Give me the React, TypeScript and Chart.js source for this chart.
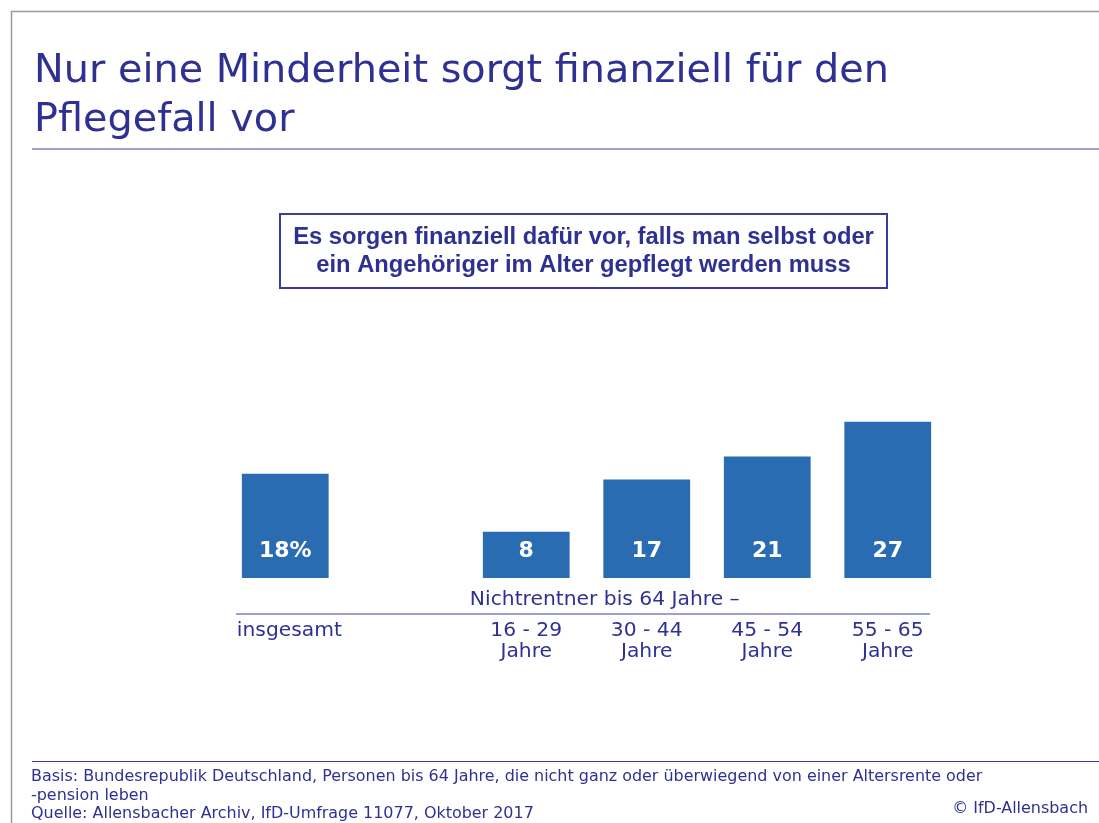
import React, { useEffect, useRef } from 'react';
import { Chart, registerables } from 'chart.js';

Chart.register(...registerables);

const categories = ['insgesamt', '', '16 - 29', '30 - 44', '45 - 54', '55 - 65'];
const secondLine = ['', '', 'Jahre', 'Jahre', 'Jahre', 'Jahre'];
const values: (number | null)[] = [18, null, 8, 17, 21, 27];
const valueLabels = ['18%', '', '8', '17', '21', '27'];
const titleLines = ['Nur eine Minderheit sorgt finanziell für den', 'Pflegefall vor'];
const questionLines = [
  'Es sorgen finanziell dafür vor, falls man selbst oder',
  'ein Angehöriger im Alter gepflegt werden muss',
];
const groupLabel = 'Nichtrentner bis 64 Jahre –';
const footerLines = [
  'Basis: Bundesrepublik Deutschland, Personen bis 64 Jahre, die nicht ganz oder überwiegend von einer Altersrente oder',
  '-pension leben',
  'Quelle: Allensbacher Archiv, IfD-Umfrage 11077, Oktober 2017',
];
const copyright = '© IfD-Allensbach';

const W = 1099;
const H = 823;
const NAVY = '#2e3192';
const BAR = '#2a6cb1';
const SANS = '"DejaVu Sans", sans-serif';
const BOLD = '"Liberation Sans", Arial, sans-serif';

function fitSize(ctx: CanvasRenderingContext2D, text: string, weight: string, family: string, target: number) {
  ctx.font = `${weight} 100px ${family}`;
  const w = ctx.measureText(text).width;
  return (100 * target) / w;
}

const overlay = {
  id: 'overlay',
  beforeDraw(chart: any) {
    const ctx: CanvasRenderingContext2D = chart.ctx;
    ctx.save();
    ctx.fillStyle = '#ffffff';
    ctx.fillRect(0, 0, W, H);
    ctx.restore();
  },
  afterDraw(chart: any) {
    const ctx: CanvasRenderingContext2D = chart.ctx;
    const meta = chart.getDatasetMeta(0);
    const yScale = chart.scales.y;
    const base = yScale.getPixelForValue(0);
    ctx.save();

    // frame
    ctx.strokeStyle = '#9a9a9a';
    ctx.lineWidth = 1.5;
    ctx.beginPath();
    ctx.moveTo(11.5, H);
    ctx.lineTo(11.5, 11.5);
    ctx.lineTo(W, 11.5);
    ctx.stroke();

    // title
    const tSize = fitSize(ctx, titleLines[0], '400', SANS, 855);
    ctx.fillStyle = NAVY;
    ctx.textAlign = 'left';
    ctx.textBaseline = 'alphabetic';
    ctx.font = `400 ${tSize}px ${SANS}`;
    ctx.fillText(titleLines[0], 34, 82);
    ctx.fillText(titleLines[1], 34, 131);

    ctx.strokeStyle = '#8080c0';
    ctx.lineWidth = 1.5;
    ctx.beginPath();
    ctx.moveTo(32, 149);
    ctx.lineTo(W, 149);
    ctx.stroke();

    // question box
    ctx.strokeStyle = '#3a3c9a';
    ctx.lineWidth = 2;
    ctx.strokeRect(280, 214, 607, 74);
    const qSize = fitSize(ctx, questionLines[0], '700', BOLD, 581);
    ctx.font = `700 ${qSize}px ${BOLD}`;
    ctx.fillStyle = NAVY;
    ctx.textAlign = 'center';
    ctx.textBaseline = 'middle';
    ctx.fillText(questionLines[0], 583.5, 237);
    ctx.fillText(questionLines[1], 583.5, 265);

    // value labels
    ctx.fillStyle = '#ffffff';
    ctx.font = `700 22px ${SANS}`;
    meta.data.forEach((bar: any, i: number) => {
      if (values[i] == null) return;
      ctx.fillText(valueLabels[i], bar.x, base - 27);
    });

    // group label and rule
    const first = meta.data[0];
    const second = meta.data[2];
    const last = meta.data[meta.data.length - 1];
    const lSize = fitSize(ctx, groupLabel, '400', SANS, 270);
    ctx.font = `400 ${lSize}px ${SANS}`;
    ctx.fillStyle = NAVY;
    ctx.textAlign = 'left';
    ctx.fillText(groupLabel, second.x - second.width / 2 - 13, base + 22);

    ctx.strokeStyle = '#8080bc';
    ctx.lineWidth = 1.5;
    ctx.beginPath();
    ctx.moveTo(first.x - first.width / 2 - 6, base + 36);
    ctx.lineTo(last.x + last.width / 2 - 1, base + 36);
    ctx.stroke();

    // category labels
    meta.data.forEach((bar: any, i: number) => {
      if (!categories[i]) return;
      if (i === 0) {
        ctx.textAlign = 'left';
        ctx.fillText(categories[i], bar.x - bar.width / 2 - 5, base + 53);
      } else {
        ctx.textAlign = 'center';
        ctx.fillText(categories[i], bar.x, base + 53);
        ctx.fillText(secondLine[i], bar.x, base + 74);
      }
    });

    // footer
    ctx.strokeStyle = '#3a3c9a';
    ctx.lineWidth = 1.2;
    ctx.beginPath();
    ctx.moveTo(32, 761.5);
    ctx.lineTo(W, 761.5);
    ctx.stroke();
    const fSize = fitSize(ctx, footerLines[0], '400', SANS, 952);
    ctx.font = `400 ${fSize}px ${SANS}`;
    ctx.textAlign = 'left';
    ctx.fillText(footerLines[0], 31, 777);
    ctx.fillText(footerLines[1], 31, 796);
    ctx.fillText(footerLines[2], 31, 814);
    ctx.textAlign = 'right';
    ctx.fillText(copyright, 1088, 809);

    ctx.restore();
  },
};

export default function App() {
  const ref = useRef<HTMLCanvasElement | null>(null);
  useEffect(() => {
    if (!ref.current) return;
    const chart = new Chart(ref.current, {
      type: 'bar',
      data: {
        labels: categories,
        datasets: [
          {
            data: values,
            backgroundColor: BAR,
            borderWidth: 0,
            barPercentage: 0.72,
            categoryPercentage: 1,
          },
        ],
      },
      options: {
        responsive: false,
        animation: false,
        devicePixelRatio: 1,
        layout: { padding: { left: 225, right: 151, top: 329, bottom: 245 } },
        plugins: { legend: { display: false }, tooltip: { enabled: false }, title: { display: false } },
        scales: {
          x: { display: false, offset: true, grid: { display: false } },
          y: { display: false, min: 0, max: 43 },
        },
      },
      plugins: [overlay],
    });
    return () => chart.destroy();
  }, []);
  return (
    <div style={{ position: 'absolute', left: 0, top: 0, width: W, height: H, background: '#fff' }}>
      <canvas ref={ref} width={W} height={H} style={{ display: 'block', width: W, height: H }} />
    </div>
  );
}
